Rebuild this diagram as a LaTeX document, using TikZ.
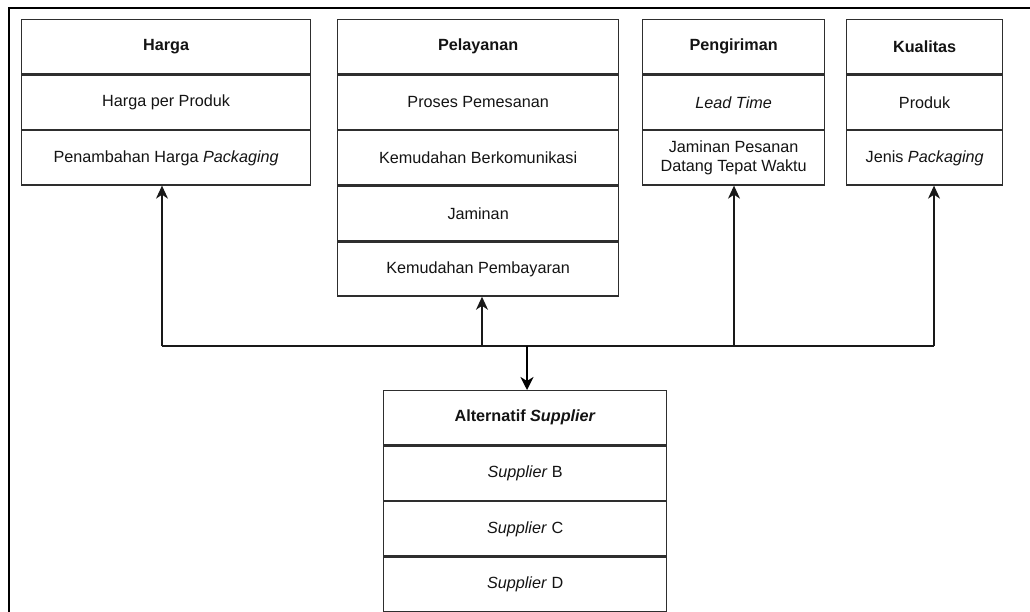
\documentclass[tikz,border=0pt]{standalone}
\usepackage{fontspec}
\setmainfont{Liberation Sans}
\usetikzlibrary{arrows.meta}
\newcommand\cellfont{\fontsize{16.2}{19}\selectfont}

\begin{document}
\begin{tikzpicture}[x=1pt, y=-1pt,
  cell/.style={draw=black!82, line width=1.3pt, minimum height=54.25pt,
               inner sep=0pt, align=center, font=\cellfont, text=black!92},
  head/.style={cell, font=\cellfont\bfseries},
  below of row/.style={anchor=north},
  link/.style={line width=1.3pt, draw=black!90,
               -{Stealth[length=13pt, width=12pt, inset=4pt]}},
  mainlink/.style={line width=2.4pt, draw=black,
               -{Stealth[length=13pt, width=13pt, inset=4pt]}},
  bus/.style={line width=1.3pt, draw=black!90},
]
\useasboundingbox (0,0) rectangle (1030,611);
\clip (0,0) rectangle (1030,611);
\fill[white] (0,0) rectangle (1030,611);

% outer frame
\draw[line width=2pt, black] (9,8) rectangle (1045,625);

% Harga
\node[head, minimum width=289pt, anchor=north west] (h0) at (21,19) {Harga};
\node[cell, minimum width=289pt, below of row] (h1) at (h0.south) {Harga per Produk};
\node[cell, minimum width=289pt, below of row] (h2) at (h1.south) {Penambahan Harga \textit{Packaging}};

% Pelayanan
\node[head, minimum width=281pt, anchor=north west] (p0) at (337,19) {Pelayanan};
\node[cell, minimum width=281pt, below of row] (p1) at (p0.south) {Proses Pemesanan};
\node[cell, minimum width=281pt, below of row] (p2) at (p1.south) {Kemudahan Berkomunikasi};
\node[cell, minimum width=281pt, below of row] (p3) at (p2.south) {Jaminan};
\node[cell, minimum width=281pt, below of row] (p4) at (p3.south) {Kemudahan Pembayaran};

% Pengiriman
\node[head, minimum width=182pt, anchor=north west] (g0) at (642,19) {Pengiriman};
\node[cell, minimum width=182pt, below of row] (g1) at (g0.south) {\textit{Lead Time}};
\node[cell, minimum width=182pt, below of row] (g2) at (g1.south) {Jaminan Pesanan\\Datang Tepat Waktu};

% Kualitas
\node[head, minimum width=156pt, anchor=north west] (k0) at (846,19) {Kualitas};
\node[cell, minimum width=156pt, below of row] (k1) at (k0.south) {Produk};
\node[cell, minimum width=156pt, below of row] (k2) at (k1.south) {Jenis \textit{Packaging}};

% Alternatif Supplier
\node[head, minimum width=283pt, anchor=north west] (a0) at (383,390) {Alternatif \textit{Supplier}};
\node[cell, minimum width=283pt, below of row] (a1) at (a0.south) {\textit{Supplier} B};
\node[cell, minimum width=283pt, below of row] (a2) at (a1.south) {\textit{Supplier} C};
\node[cell, minimum width=283pt, below of row] (a3) at (a2.south) {\textit{Supplier} D};

% connector bus
\coordinate (jh) at (162,346);
\coordinate (jp) at (482,346);
\coordinate (ja) at (527,346);
\coordinate (jg) at (734,346);
\coordinate (jk) at (934,346);

\draw[bus] (jh) -- (jk);
\draw[link] (jh) -- (jh |- h2.south);
\draw[link] (jp) -- (jp |- p4.south);
\draw[link] (jg) -- (jg |- g2.south);
\draw[link] (jk) -- (jk |- k2.south);
\draw[mainlink] (ja) -- (ja |- a0.north);
\end{tikzpicture}
\end{document}
